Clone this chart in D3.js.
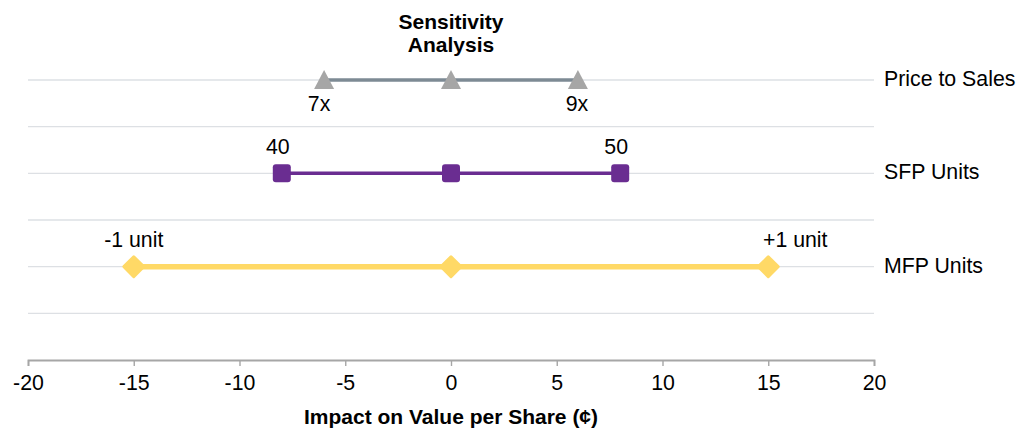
<!DOCTYPE html>
<html>
<head>
<meta charset="utf-8">
<script src="https://cdn.jsdelivr.net/npm/d3@7"></script>
<style>
  body { margin: 0; background: #fff; }
  svg { display: block; font-family: "Liberation Sans", Arial, sans-serif; }
</style>
</head>
<body>
<div id="chart"></div>
<script>
const categories = ["Price to Sales", "SFP Units", "MFP Units"];
const lowValues = [-6, -8, -15];
const baseValues = [0, 0, 0];
const highValues = [6, 8, 15];
const lowLabels = ["7x", "40", "-1 unit"];
const highLabels = ["9x", "50", "+1 unit"];
const xTicks = [-20, -15, -10, -5, 0, 5, 10, 15, 20];

const width = 1032, height = 436;
const margin = {left: 28, right: 158, top: 80, bottom: 76};

const colors = ["#A6A6A6", "#6A2D91", "#FFD966"];
const lineColors = ["#7D8A94", "#6A2D91", "#FFD966"];
const lineWidths = [3.3, 3.5, 5.5];
const fontSize = 21.3;

const svg = d3.select("#chart").append("svg")
    .attr("width", width).attr("height", height);

const x = d3.scaleLinear().domain([-20, 20]).range([margin.left, width - margin.right]);
// 7 half-row slots between the axis and the top gridline
const y = d3.scaleLinear().domain([0, 6]).range([height - margin.bottom, margin.top]);
const rowY = (i) => y(6 - 2 * i);

// gridlines
svg.append("g").selectAll("line").data(d3.range(1, 7)).join("line")
    .attr("x1", x(-20)).attr("x2", x(20))
    .attr("y1", d => y(d)).attr("y2", d => y(d))
    .attr("stroke", "#DDE0E4").attr("stroke-width", 1.4);

// x axis
const axis = svg.append("g")
    .attr("transform", `translate(0,${y(0)})`)
    .call(d3.axisBottom(x).tickValues(xTicks).tickSize(6).tickPadding(9).tickFormat(d => String(d)));
axis.select(".domain").attr("stroke", "#A6A6A6").attr("stroke-width", 1.8);
axis.selectAll(".tick line").attr("stroke", "#A6A6A6").attr("stroke-width", 1.4);
axis.selectAll(".tick text").attr("font-size", fontSize).attr("fill", "#000")
    .attr("font-family", "Liberation Sans, Arial, sans-serif");

svg.append("text")
    .attr("x", x(0)).attr("y", 424)
    .attr("text-anchor", "middle").attr("font-size", 21).attr("font-weight", "bold")
    .text("Impact on Value per Share (¢)");

// title
const title = svg.append("text")
    .attr("x", x(0)).attr("text-anchor", "middle")
    .attr("font-size", 21).attr("font-weight", "bold");
title.append("tspan").attr("x", x(0)).attr("y", 29).text("Sensitivity");
title.append("tspan").attr("x", x(0)).attr("y", 52).text("Analysis");

// category labels
svg.append("g").selectAll("text").data(categories).join("text")
    .attr("x", 884).attr("y", (d, i) => rowY(i) + 6)
    .attr("font-size", fontSize)
    .text(d => d);

// range lines and markers
const g = svg.append("g");
categories.forEach((c, i) => {
    g.append("line")
        .attr("x1", x(lowValues[i])).attr("x2", x(highValues[i]))
        .attr("y1", rowY(i)).attr("y2", rowY(i))
        .attr("stroke", lineColors[i]).attr("stroke-width", lineWidths[i]);

    [lowValues[i], baseValues[i], highValues[i]].forEach(v => {
        const cx = x(v), cy = rowY(i);
        if (i === 0) {
            g.append("path")
                .attr("d", `M${cx},${cy - 10}L${cx + 10},${cy + 9}L${cx - 10},${cy + 9}Z`)
                .attr("fill", colors[i]);
        } else if (i === 1) {
            g.append("rect")
                .attr("x", cx - 9).attr("y", cy - 9)
                .attr("width", 18).attr("height", 18).attr("rx", 3)
                .attr("fill", colors[i]);
        } else {
            g.append("rect")
                .attr("x", -8.5).attr("y", -8.5)
                .attr("width", 17).attr("height", 17).attr("rx", 1.5)
                .attr("transform", `translate(${cx},${cy}) rotate(45)`)
                .attr("fill", colors[i]);
        }
    });
});

// data labels (first row labels sit below, the rest above)
const labelDx = [[-5, -1], [-4, -4], [0, 27]];
const labelDy = [31, -19, -20];
const labels = [];
categories.forEach((c, i) => {
    labels.push({text: lowLabels[i], v: lowValues[i], i, dx: labelDx[i][0]});
    labels.push({text: highLabels[i], v: highValues[i], i, dx: labelDx[i][1]});
});
svg.append("g").selectAll("text").data(labels).join("text")
    .attr("x", d => x(d.v) + d.dx)
    .attr("y", d => rowY(d.i) + labelDy[d.i])
    .attr("text-anchor", "middle").attr("font-size", fontSize)
    .text(d => d.text);
</script>
</body>
</html>
